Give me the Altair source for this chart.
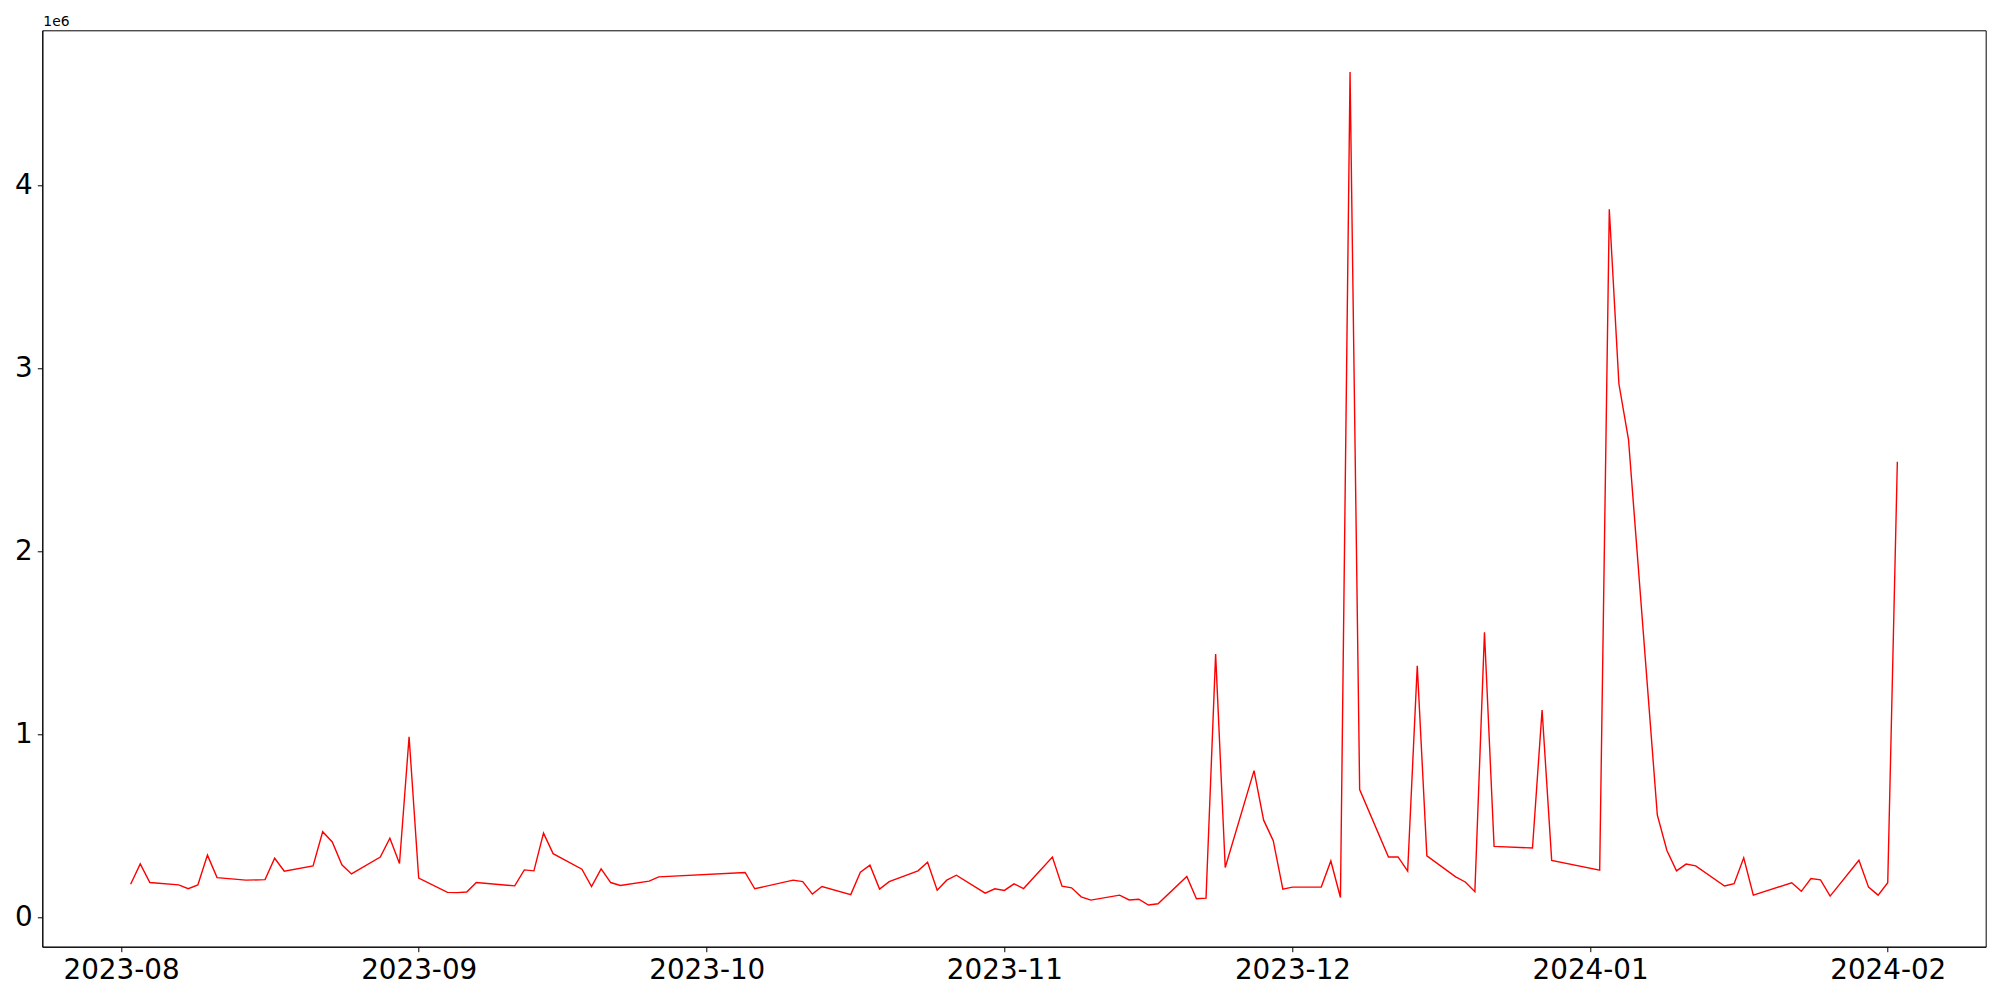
import altair as alt
import pandas as pd

dates = [
    "2023-08-02", "2023-08-03", "2023-08-04", "2023-08-07", "2023-08-08", "2023-08-09", "2023-08-10", "2023-08-11",
    "2023-08-14", "2023-08-16", "2023-08-17", "2023-08-18", "2023-08-21", "2023-08-22", "2023-08-23", "2023-08-24",
    "2023-08-25", "2023-08-28", "2023-08-29", "2023-08-30", "2023-08-31", "2023-09-01", "2023-09-04", "2023-09-05",
    "2023-09-06", "2023-09-07", "2023-09-11", "2023-09-12", "2023-09-13", "2023-09-14", "2023-09-15", "2023-09-18",
    "2023-09-19", "2023-09-20", "2023-09-21", "2023-09-22", "2023-09-25", "2023-09-26", "2023-10-05", "2023-10-06",
    "2023-10-10", "2023-10-11", "2023-10-12", "2023-10-13", "2023-10-16", "2023-10-17", "2023-10-18", "2023-10-19",
    "2023-10-20", "2023-10-23", "2023-10-24", "2023-10-25", "2023-10-26", "2023-10-27", "2023-10-30", "2023-10-31",
    "2023-11-01", "2023-11-02", "2023-11-03", "2023-11-06", "2023-11-07", "2023-11-08", "2023-11-09", "2023-11-10",
    "2023-11-13", "2023-11-14", "2023-11-15", "2023-11-16", "2023-11-17", "2023-11-20", "2023-11-21", "2023-11-22",
    "2023-11-23", "2023-11-24", "2023-11-27", "2023-11-28", "2023-11-29", "2023-11-30", "2023-12-01", "2023-12-04",
    "2023-12-05", "2023-12-06", "2023-12-07", "2023-12-08", "2023-12-11", "2023-12-12", "2023-12-13", "2023-12-14",
    "2023-12-15", "2023-12-18", "2023-12-19", "2023-12-20", "2023-12-21", "2023-12-22", "2023-12-26", "2023-12-27",
    "2023-12-28", "2024-01-02", "2024-01-03", "2024-01-04", "2024-01-05", "2024-01-08", "2024-01-09", "2024-01-10",
    "2024-01-11", "2024-01-12", "2024-01-15", "2024-01-16", "2024-01-17", "2024-01-18", "2024-01-22", "2024-01-23",
    "2024-01-24", "2024-01-25", "2024-01-26", "2024-01-29", "2024-01-30", "2024-01-31", "2024-02-01", "2024-02-02",
]

values = [
    180000, 291000, 189000, 176000, 155000, 176000, 339000, 216000,
    202000, 205000, 322000, 251000, 280000, 467000, 411000, 286000,
    236000, 328000, 431000, 293000, 986000, 213000, 135000, 134000,
    137000, 189000, 171000, 258000, 253000, 459000, 347000, 262000,
    167000, 264000, 189000, 173000, 197000, 220000, 244000, 155000,
    202000, 194000, 126000, 167000, 123000, 246000, 284000, 153000,
    194000, 253000, 300000, 147000, 202000, 229000, 131000, 155000,
    146000, 182000, 156000, 328000, 169000, 160000, 111000, 93000,
    120000, 94000, 98000, 66000, 73000, 222000, 100000, 104000,
    1438000, 271000, 801000, 530000, 418000, 153000, 164000, 164000,
    307000, 107000, 4621000, 697000, 329000, 329000, 251000, 1374000,
    335000, 220000, 192000, 139000, 1557000, 387000, 378000, 1132000,
    310000, 257000, 3870000, 2916000, 2611000, 559000, 364000, 253000,
    290000, 280000, 170000, 183000, 324000, 120000, 188000, 141000,
    211000, 204000, 115000, 311000, 164000, 120000, 188000, 2490000,
]

tick_dates = ["2023-08-01", "2023-09-01", "2023-10-01", "2023-11-01",
              "2023-12-01", "2024-01-01", "2024-02-01"]
y_ticks = [0, 1000000, 2000000, 3000000, 4000000]


def ms(s):
    return int(pd.Timestamp(s, tz="UTC").value // 10**6)


df = pd.DataFrame({"date": [ms(d) for d in dates], "value": values})

span = df["date"].max() - df["date"].min()
x_dom = [df["date"].min() - 0.05 * span, df["date"].max() + 0.05 * span]
vspan = max(values) - min(values)
y_dom = [min(values) - 0.05 * vspan, max(values) + 0.05 * vspan]

FONT = "DejaVu Sans"

line = alt.Chart(df).mark_line(color="#ff0000", strokeWidth=1.4, clip=True).encode(
    x=alt.X(
        "date:T",
        scale=alt.Scale(type="utc", domain=x_dom, nice=False),
        axis=alt.Axis(
            values=[ms(t) for t in tick_dates],
            format="%Y-%m",
            title=None,
            labelFontSize=27.8,
            labelFont=FONT,
            labelColor="black",
            tickSize=5,
            tickColor="black",
            domainColor="black",
            labelPadding=5,
            grid=False,
            labelFlush=False,
        ),
    ),
    y=alt.Y(
        "value:Q",
        scale=alt.Scale(domain=y_dom, nice=False, zero=False),
        axis=alt.Axis(
            values=y_ticks,
            labelExpr="format(datum.value / 1000000, 'd')",
            title=None,
            labelFontSize=27.8,
            labelFont=FONT,
            labelColor="black",
            tickSize=5,
            tickColor="black",
            domainColor="black",
            labelPadding=5,
            grid=False,
        ),
    ),
)

offset = alt.Chart(pd.DataFrame({"t": ["1e6"]})).mark_text(
    align="left", baseline="alphabetic", fontSize=13.9, font=FONT, color="black"
).encode(text="t:N", x=alt.value(1), y=alt.value(-4))

chart = (
    alt.layer(line, offset)
    .properties(
        width=1943.4,
        height=916.4,
        autosize=alt.AutoSizeParams(type="none"),
        padding={"left": 34.3, "top": 22.3, "right": 6, "bottom": 50},
        background="white",
    )
    .configure_view(stroke="black", strokeWidth=1)
)

chart.save("out.html", embed_options={"renderer": "svg", "actions": False})
